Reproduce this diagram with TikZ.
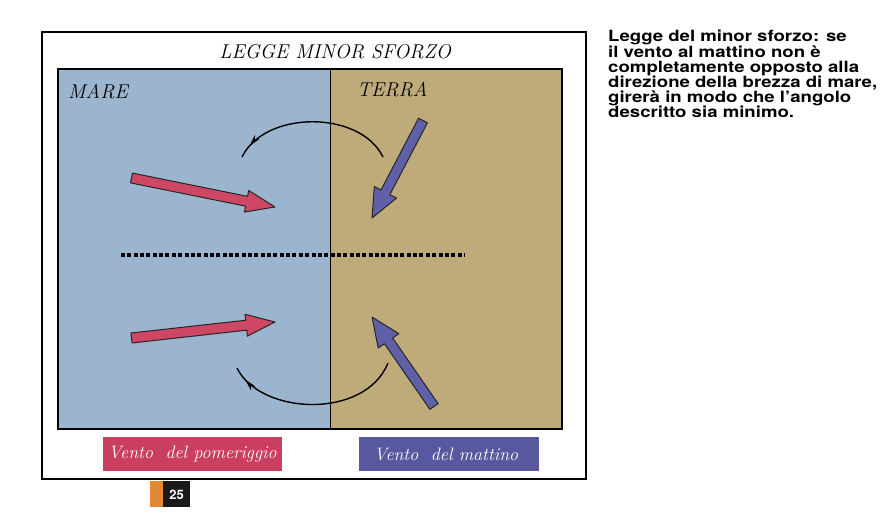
\documentclass[tikz,border=0pt]{standalone}
\usepackage{fontspec}
\newfontfamily\heros{TeX Gyre Heros}
\newfontfamily\herosw[FakeStretch=1.2]{TeX Gyre Heros}
\usetikzlibrary{calc,decorations,decorations.markings,arrows.meta}

\definecolor{mare}{RGB}{156,181,206}
\definecolor{terra}{RGB}{191,171,122}
\definecolor{ventoR}{RGB}{206,72,102}
\definecolor{ventoB}{RGB}{96,96,168}
\definecolor{boxR}{RGB}{202,62,96}
\definecolor{boxB}{RGB}{88,88,160}
\definecolor{pagOr}{RGB}{224,136,52}

\begin{document}
\begin{tikzpicture}[x=1pt,y=-1pt]

\tikzset{hand/.style={font=\fontsize{20}{22}\selectfont\itshape, inner sep=0pt},
legend/.style={font=\fontsize{18}{20}\selectfont\itshape, text=white, inner sep=0pt},
%curved arrow with head close to its end
giro/.style={line width=1.4pt, decoration={markings, mark=at position 0.92 with {\arrow{Stealth[length=12pt,width=6pt]}}},
   postaction=decorate}}

\useasboundingbox (0,0) rectangle (891,521);

%frame and the two zones
\draw[line width=1.6pt] (42,32) rectangle (586,479);
\fill[mare] (58,69) rectangle (330,429);
\fill[terra] (330,69) rectangle (562,429);
\draw[line width=1.2pt] (58,69) rectangle (562,429);
\draw[line width=1pt] (330,69) -- (330,429);

\node[hand] (titolo) at (335,52) {LEGGE MINOR SFORZO};
\node[hand, anchor=west] (mare) at (68,92) {MARE};
\node[hand, anchor=west] (terra) at (357,90) {TERRA};

%coast line
\coordinate (c1) at (121,255);
\coordinate (c2) at (465,255);
\draw[line width=4pt, dash pattern=on 4pt off 2.35pt] (c1) -- (c2);

%wind arrows: tail/tip/colour
\coordinate (r1a) at (131.5,178);  \coordinate (r1b) at (275,207);
\coordinate (r2a) at (131.5,338);  \coordinate (r2b) at (275,322);
\coordinate (b1a) at (423,120.5);  \coordinate (b1b) at (372,218);
\coordinate (b2a) at (434,406.5);  \coordinate (b2b) at (372,317);

\foreach \a/\b/\c/\w in {r1a/r1b/ventoR/11, r2a/r2b/ventoR/11, b1a/b1b/ventoB/12.5, b2a/b2b/ventoB/12.5}
  \filldraw[fill=\c, draw=black!85, line width=1pt, line join=round]
    let \p1 = ($(\b)!29pt!(\a)$) in
    ($(\a)!5pt!90:(\b)$) -- ($(\p1)!5pt!90:(\b)$) -- ($(\p1)!\w pt!90:(\b)$) -- (\b)
    -- ($(\p1)!\w pt!-90:(\b)$) -- ($(\p1)!5pt!-90:(\b)$) -- ($(\a)!5pt!-90:(\b)$) -- cycle;

%turning of the wind
\coordinate (g1a) at (383,157);  \coordinate (g1b) at (242,157);
\coordinate (g2a) at (388,363);  \coordinate (g2b) at (237,368);
\draw[giro] (g1a) .. controls (360,110) and (265,110) .. (g1b);
\draw[giro] (g2a) .. controls (365,420) and (260,415) .. (g2b);

%legend
\fill[boxR] (103,437) rectangle (282,471);
\node[legend] (pom) at (192.5,454) {Vento\ \ del pomeriggio};
\fill[boxB] (359,437) rectangle (539,471);
\node[legend] (mat) at (446,454) {Vento\ \ del mattino};

%page number
\fill[pagOr] (150,481) rectangle (163,507);
\fill[black!90] (163,481) rectangle (190,507);
\node[font=\heros\bfseries\fontsize{13}{13}\selectfont, text=white, inner sep=0pt] (pag) at (176.5,495) {25};

%caption
\node[anchor=north west, align=left, inner sep=0pt,
  font=\herosw\bfseries\fontsize{15.5}{15}\selectfont] (testo) at (608,30)
  {Legge del minor sforzo: se\\
   il vento al mattino non è\\
   completamente opposto alla\\
   direzione della brezza di mare,\\
   girerà in modo che l’angolo\\
   descritto sia minimo.};

\end{tikzpicture}
\end{document}
